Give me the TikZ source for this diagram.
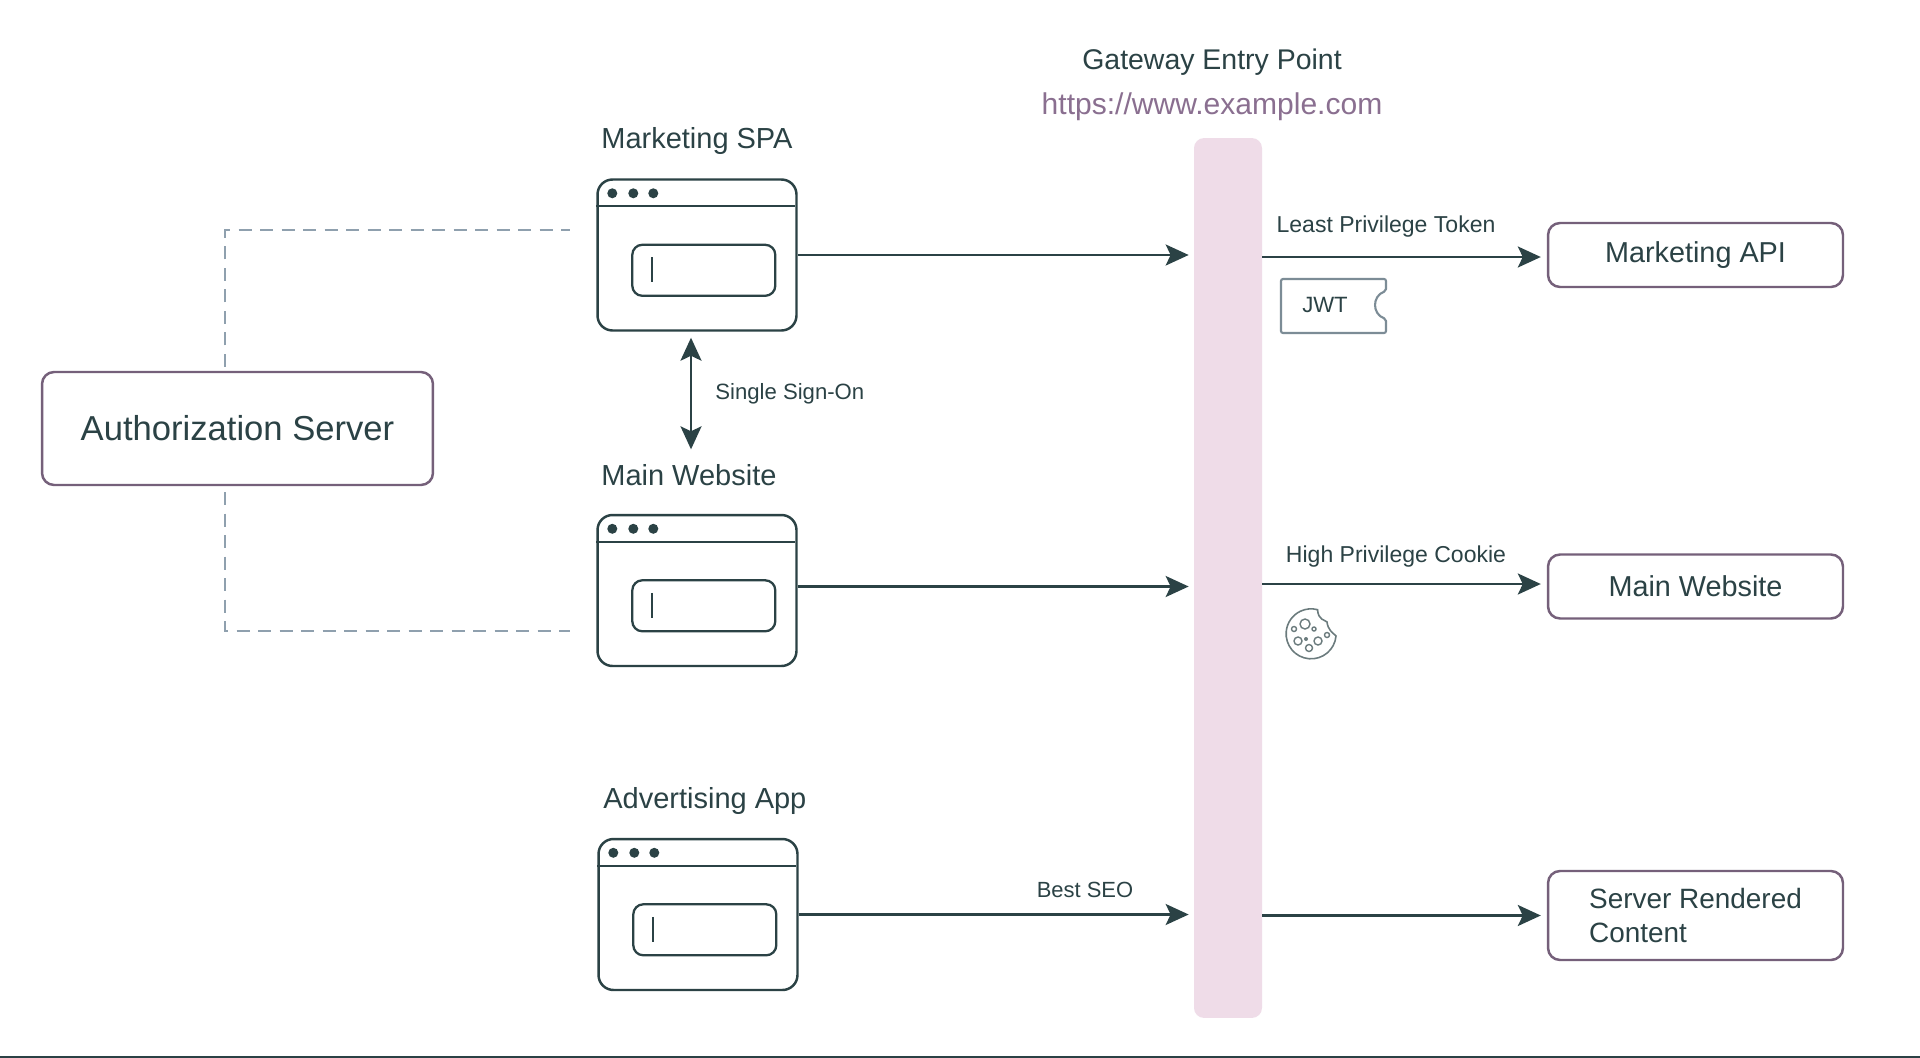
\documentclass[tikz,border=0pt]{standalone}
\usepackage{fontspec}
\setmainfont{Liberation Sans}
\usetikzlibrary{arrows.meta}
\definecolor{inkteal}{HTML}{2B4245}
\definecolor{mauveline}{HTML}{75607A}
\definecolor{mauvetext}{HTML}{8A6F90}
\definecolor{barpink}{HTML}{EFDCE8}
\definecolor{dashgrey}{HTML}{8FA0AE}
\definecolor{ticketgrey}{HTML}{7C8C96}
\tikzset{
    window/.style={draw=inkteal, rounded corners=.3cm, line width=1.4pt, fill=white, minimum width=3.98cm, minimum height=3.02cm, inner sep=0pt},
    inputbox/.style={draw=inkteal, rounded corners=.2cm, line width=1.3pt, minimum width=2.86cm, minimum height=1.02cm, inner sep=0pt},
    server/.style={draw=mauveline, rounded corners=.24cm, line width=1.4pt, fill=white, minimum width=5.9cm, minimum height=1.28cm, inner sep=0pt, text=inkteal, font=\fontsize{16.4}{20}\selectfont},
    applabel/.style={anchor=west, inner sep=0pt, text=inkteal, font=\fontsize{16.5}{20}\selectfont},
    linklabel/.style={inner sep=0pt, text=inkteal, font=\fontsize{13.1}{15}\selectfont},
    flow/.style={draw=inkteal, line width=1.4pt, -{Stealth[length=.46cm, width=.42cm, inset=.1cm]}},
    authlink/.style={draw=dashgrey, line width=1.6pt, dash pattern=on .26cm off .17cm}
}
\begin{document}
\begin{tikzpicture}[x=.02cm, y=-.02cm]
            \useasboundingbox (0, 0) rectangle (1920, 1058);
            \fill[white] (0, 0) rectangle (1920, 1058);
            \fill[inkteal] (0, 1056) rectangle (1920, 1058);

            %nodes
            \node[draw=none, fill=barpink, rounded corners=.2cm, minimum width=1.36cm, minimum height=17.6cm, inner sep=0pt] (bar) at (1228, 578) {};
            \node[server, minimum width=7.82cm, minimum height=2.26cm, font=\fontsize{19.7}{24}\selectfont] (auth) at (237.5, 428.5) {Authorization Server};
            \node[window] (spa) at (697, 255) {};
            \node[window] (main) at (697, 590.5) {};
            \node[window] (adv) at (698, 914.5) {};
            \node[server] (mapi) at (1695.5, 255) {Marketing API};
            \node[server] (site) at (1695.5, 586.5) {Main Website};
            \node[server, minimum height=1.78cm, align=left, font=\fontsize{15.9}{19.5}\selectfont] (ssr) at (1695.5, 915.5) {Server Rendered\\Content};

            %labels
            \node[inner sep=0pt, text=inkteal, font=\fontsize{16.2}{20}\selectfont] (gate) at (1212, 62.5) {Gateway Entry Point};
            \node[inner sep=0pt, text=mauvetext, font=\fontsize{17.1}{20}\selectfont] (url) at (1212, 106.5) {https://www.example.com};
            \node[applabel] (spalabel) at (601, 141.5) {Marketing SPA};
            \node[applabel] (mainlabel) at (601, 475) {Main Website};
            \node[applabel] (advlabel) at (603, 801) {Advertising App};
            \node[linklabel, anchor=west, font=\fontsize{12.6}{15}\selectfont] (sso) at (715, 394) {Single Sign-On};
            \node[linklabel] (token) at (1386, 227) {Least Privilege Token};
            \node[linklabel] (cookie) at (1396, 557) {High Privilege Cookie};
            \node[linklabel, font=\fontsize{12.5}{15}\selectfont] (seo) at (1085, 890) {Best SEO};

            %window details
            \foreach \w in {spa, main, adv} {
                \draw[draw=inkteal, line width=1.3pt] (\w.north west) ++(0, 28) -- ++(199, 0);
                \foreach \d in {16, 37, 57} {
                    \fill[inkteal] (\w.north west) ++(\d, 15) circle (5);
                }
                \path (\w.north west) ++(107.5, 92) node[inputbox] (\w-input) {};
                \draw[draw=inkteal, line width=1.2pt] (\w.north west) ++(56, 79) -- ++(0, 25);
            }

            %edges
            \draw[flow, shorten >=.1cm] (spa.east) -- (bar.west |- spa.east);
            \draw[flow, shorten >=.1cm] ([yshift=.08cm]main.east) -- ([yshift=.08cm]bar.west |- main.east);
            \draw[flow, shorten >=.1cm] (adv.east) -- (bar.west |- adv.east);
            \draw[flow, shorten >=.12cm] ([yshift=-.04cm]bar.east |- mapi.west) -- ([yshift=-.04cm]mapi.west);
            \draw[flow, shorten >=.12cm] ([yshift=.05cm]bar.east |- site.west) -- ([yshift=.05cm]site.west);
            \draw[flow, shorten >=.12cm] (bar.east |- ssr.west) -- (ssr.west);
            \draw[flow, {Stealth[length=.46cm, width=.42cm, inset=.1cm]}-{Stealth[length=.46cm, width=.42cm, inset=.1cm]}] ([xshift=-.12cm, yshift=-.12cm]spa.south) -- ([xshift=-.12cm, yshift=1.29cm]main.north);
            \draw[authlink] ([xshift=-.25cm, yshift=.08cm]auth.north) |- ([xshift=-.52cm, yshift=.5cm]spa.west);
            \draw[authlink] ([xshift=-.25cm, yshift=-.12cm]auth.south) |- ([xshift=-.52cm, yshift=-.81cm]main.west);

            %ticket
            \draw[draw=ticketgrey, line width=1.2pt, rounded corners=.04cm] (1281, 279) -- (1386, 279) -- (1386, 291)
                .. controls (1372, 296) and (1372, 314) .. (1386, 319) -- (1386, 333) -- (1281, 333) -- cycle;
            \node[linklabel, font=\fontsize{12.6}{15}\selectfont] (jwt) at (1325, 305) {JWT};

            %cookie
            \draw[draw=inkteal!70, line width=.9pt] (1336, 636) arc[start angle=-5, end angle=-285, radius=.5cm]
                .. controls (1318, 620) and (1325, 620) .. (1327, 622)
                .. controls (1328, 630) and (1332, 632) .. cycle;
            \foreach \cx/\cy/\cr in {-6/-10/5, -17/-5/2.5, 3/-5/2, -13/7/4, 7/7/4, 16/1/2.5, -2/14/3.5} {
                \draw[draw=inkteal!70, line width=.8pt] (1311+\cx, 634+\cy) circle (\cr);
            }
            \fill[inkteal!70] (1306, 639) circle (2);
        \end{tikzpicture}
\end{document}
